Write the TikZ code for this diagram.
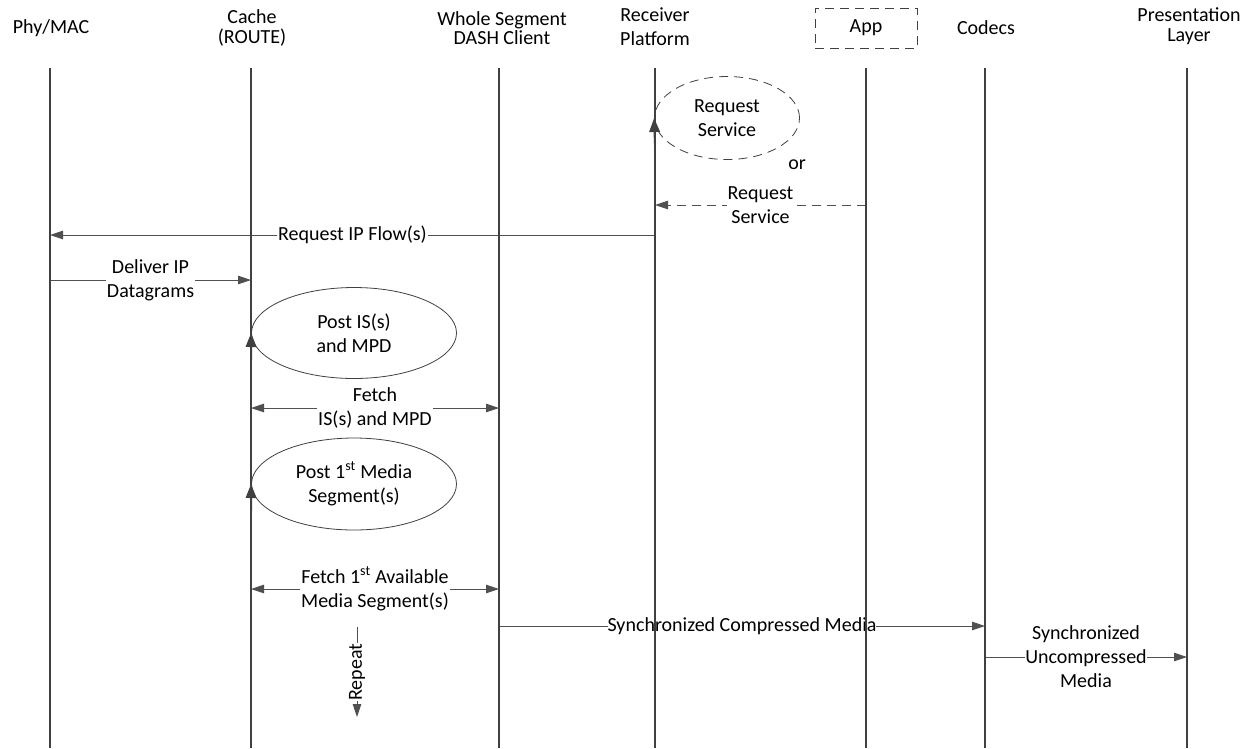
\documentclass[tikz,border=0pt]{standalone}
\usepackage{fontspec}
\setmainfont{Carlito}
\usetikzlibrary{arrows.meta,shapes.geometric}
\definecolor{lifec}{HTML}{404040}
\definecolor{arrc}{HTML}{505050}
\begin{document}
\begin{tikzpicture}[x=1pt,y=-1pt,
  txt/.style={font=\fontsize{20}{24}\selectfont, align=center, inner sep=1pt, text=black},
  htxt/.style={font=\fontsize{20}{19.5}\selectfont, align=center, inner sep=1pt, text=black},
  lbl/.style={txt, fill=white},
  life/.style={line width=2pt, draw=lifec},
  arr/.style={draw=arrc, line width=0.9pt, -{Triangle[length=13pt,width=8.5pt]}},
  uparr/.style={draw=lifec, line width=2pt, -{Triangle[length=14pt,width=10.5pt]}},
  darr/.style={draw=arrc, line width=0.9pt, {Triangle[length=13pt,width=8.5pt]}-{Triangle[length=13pt,width=8.5pt]}},
  dsh/.style={dash pattern=on 9pt off 6pt},
  ell/.style={ellipse, draw=black!75, line width=0.8pt, fill=white, inner sep=0pt, txt}
]
\useasboundingbox (0,0) rectangle (1255,748);

% headers
\node[htxt] (hphy) at (51,28) {Phy/MAC};
\node[htxt] (hcache) at (252,28) {Cache\\(ROUTE)};
\node[htxt] (hdash) at (502,28) {Whole Segment\\DASH Client};
\node[txt] (hrecv) at (655,27) {Receiver\\Platform};
\node[txt, draw=black!75, line width=0.9pt, dsh, minimum width=102pt, minimum height=40pt] (happ) at (866,28) {App};
\node[htxt] (hcod) at (986,28) {Codecs};
\node[htxt] (hpres) at (1189,26) {Presentation\\Layer};

% lifeline ends
\coordinate (phyT) at (50,68);   \coordinate (phyB) at (50,748);
\coordinate (cacT) at (251,68);  \coordinate (cacB) at (251,748);
\coordinate (dasT) at (499,68);  \coordinate (dasB) at (499,748);
\coordinate (recT) at (655,68);  \coordinate (recB) at (655,748);
\coordinate (appT) at (866,68);  \coordinate (appB) at (866,748);
\coordinate (codT) at (985,68);  \coordinate (codB) at (985,748);
\coordinate (preT) at (1187,68); \coordinate (preB) at (1187,748);

% request service
\node[ell, dsh, minimum width=145pt, minimum height=83pt] (req) at (727,118) {Request\\Service};
\coordinate (reqS) at (655,145);
\node[txt] (or) at (797,165) {or};

\coordinate (m0a) at (866,205); \coordinate (m0b) at (655,205);
\draw[arr, dsh] (m0a) -- node[lbl] {Request\\Service} (m0b);

\coordinate (m1a) at (655,235); \coordinate (m1b) at (50,235);
\draw[arr] (m1a) -- node[lbl] {Request IP Flow(s)} (m1b);

\coordinate (m2a) at (50,280); \coordinate (m2b) at (251,280);
\draw[arr] (m2a) -- node[lbl] {Deliver IP\\Datagrams} (m2b);

\node[ell, minimum width=205pt, minimum height=91pt] (post1) at (354,333) {Post IS(s)\\and MPD};
\coordinate (p1s) at (251,360);

\coordinate (m3a) at (251,408); \coordinate (m3b) at (499,408);
\draw[darr] (m3a) -- node[lbl] {Fetch\\IS(s) and MPD} (m3b);

\node[ell, minimum width=205pt, minimum height=92pt] (post2) at (354,484) {Post 1\textsuperscript{st} Media\\Segment(s)};
\coordinate (p2s) at (251,511);

\coordinate (m4a) at (251,589); \coordinate (m4b) at (499,589);
\draw[darr] (m4a) -- node[lbl] {Fetch 1\textsuperscript{st} Available\\Media Segment(s)} (m4b);

\coordinate (rpa) at (357,627); \coordinate (rpb) at (357,717);
\draw[arr] (rpa) -- node[lbl, rotate=90, inner sep=0.5pt] {Repeat} (rpb);

\coordinate (m5a) at (499,626); \coordinate (m5b) at (985,626);
\draw[arr] (m5a) -- node[lbl, inner sep=0pt] {Synchronized Compressed Media} (m5b);

\coordinate (m6a) at (985,657); \coordinate (m6b) at (1187,657);
\draw[arr] (m6a) -- node[lbl, inner sep=0pt] {Synchronized\\Uncompressed\\Media} (m6b);

% lifelines on top
\foreach \l in {phy,cac,das,rec,app,cod,pre}
  \draw[life] (\l T) -- (\l B);
% activation arrows on lifelines
\draw[uparr] (reqS) -- (req.west);
\draw[uparr] (p1s) -- (post1.west);
\draw[uparr] (p2s) -- (post2.west);
\end{tikzpicture}
\end{document}
